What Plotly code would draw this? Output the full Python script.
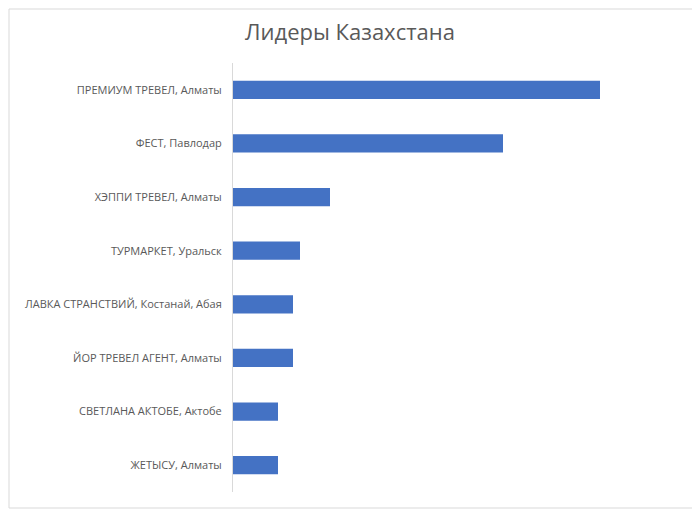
import plotly.graph_objects as go

categories = ["ПРЕМИУМ ТРЕВЕЛ, Алматы", "ФЕСТ, Павлодар", "ХЭППИ ТРЕВЕЛ, Алматы",
              "ТУРМАРКЕТ, Уральск", "ЛАВКА СТРАНСТВИЙ, Костанай, Абая",
              "ЙОР ТРЕВЕЛ АГЕНТ, Алматы", "СВЕТЛАНА АКТОБЕ, Актобе", "ЖЕТЫСУ, Алматы"]
values = [367, 270, 97, 67, 60, 60, 45, 45]

fig = go.Figure(go.Bar(y=categories, x=values, orientation="h", marker_color="#4472C4",
                       marker_line_width=0))
W, H = 692, 501
L, R, T, B = 225, 20, 55, 17
pw = W - L - R
ph = H - T - B
fig.update_layout(
    width=W, height=H, margin=dict(l=L, r=R, t=T, b=B),
    plot_bgcolor="white", paper_bgcolor="white", bargap=0.66,
    title=dict(text="Лидеры Казахстана", x=(350 - 8) / W, xanchor="center", y=1 - 24 / H, yanchor="middle",
               font=dict(family="Open Sans", size=22, color="#595959")),
    font=dict(family="Open Sans", size=11, color="#595959"),
    xaxis=dict(range=[0, pw], showticklabels=False, showgrid=False, zeroline=False, fixedrange=True),
    yaxis=dict(autorange="reversed", showline=True, linecolor="#D9D9D9", linewidth=1,
               ticks="", ticklabelstandoff=8),
    shapes=[dict(type="rect", xref="paper", yref="paper",
                 x0=-(L - 1) / pw, x1=1 + (R - 1) / pw, y0=-(B - 1) / ph, y1=1 + (T - 1) / ph,
                 line=dict(color="#D9D9D9", width=1))],
    showlegend=False,
)
fig.write_html("out.html")
